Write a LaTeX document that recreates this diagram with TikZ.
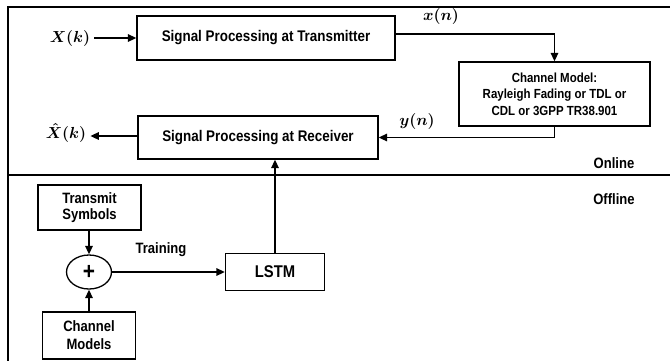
\RequirePackage{fix-cm}
\documentclass[tikz,border=0pt]{standalone}
\usepackage[no-math]{fontspec}
\setmainfont{Liberation Sans}[FakeStretch=0.87]
\usetikzlibrary{arrows.meta,shapes.geometric}
\newcommand{\fsz}[1]{\fontsize{#1}{#1}\selectfont}
\begin{document}
\begin{tikzpicture}[x=1pt,y=-1pt,
  box/.style={draw, line width=1.3pt, align=center, inner sep=0pt},
  arr/.style={line width=1.6pt, -{Triangle[length=8.5pt,width=7.5pt]}},
  frameline/.style={line width=2pt},
  mathlbl/.style={font=\fsz{16}\boldmath, inner sep=4pt},
  lbl/.style={font=\fsz{15}\bfseries}]
\useasboundingbox (0,0) rectangle (670,360);

% panel frame and online/offline divider
\draw[frameline] (672,7) -- (8,7) -- (8,363);
\draw[frameline] (8,175) -- (672,175);

% online chain
\node[box, minimum width=258, minimum height=44, font=\fsz{15.4}\bfseries] (tx) at (266,38) {Signal Processing at Transmitter};
\node[box, minimum width=240, minimum height=43, font=\fsz{15.4}\bfseries] (rx) at (258,137.5) {Signal Processing at Receiver};
\node[box, minimum width=191, minimum height=64, font=\fontsize{13.2}{16.5}\selectfont\bfseries] (ch) at (554.5,94)
  {Channel Model:\\Rayleigh Fading or TDL or\\CDL or 3GPP TR38.901};

\node[mathlbl] (xk) at (70,38) {$X(k)$};
\node[mathlbl] (xh) at (66,133) {$\hat{X}(k)$};
\node[mathlbl] (xn) at (441,16) {$x(n)$};
\node[mathlbl] (yn) at (417,121) {$y(n)$};

% offline training
\node[box, minimum width=103, minimum height=45, font=\fontsize{15}{16}\selectfont\bfseries] (ts) at (89.5,207.5) {Transmit\\Symbols};
\node[box, minimum width=93, minimum height=47, font=\fontsize{15}{18}\selectfont\bfseries] (cm) at (89,335.5) {Channel\\Models};
\node[draw, ellipse, line width=1.3pt, minimum width=45, minimum height=34, inner sep=0pt, font=\fsz{24}\bfseries] (sum) at (89,272) {+};
\node[box, minimum width=99, minimum height=37, font=\fsz{17}\bfseries] (lstm) at (275,272) {LSTM};
\node[lbl] (tr) at (161,250) {Training};

\node[lbl] (on) at (614,163) {Online};
\node[lbl] (off) at (614,199) {Offline};

% connectors
\draw[arr] (xk) -- (tx);
\draw[arr] ([yshift=4pt]tx.east) -| (ch.north);
\draw[arr] (ch.south) |- (rx.east);
\draw[arr] (rx.west |- 0,136) -- (xh.east |- 0,136);
\draw[arr] (ts.south -| sum.north) -- (sum);
\draw[arr] (cm) -- (sum);
\draw[arr] (sum) -- (lstm);
\draw[arr] (lstm.north) -- (lstm.north |- rx.south);
\end{tikzpicture}
\end{document}
